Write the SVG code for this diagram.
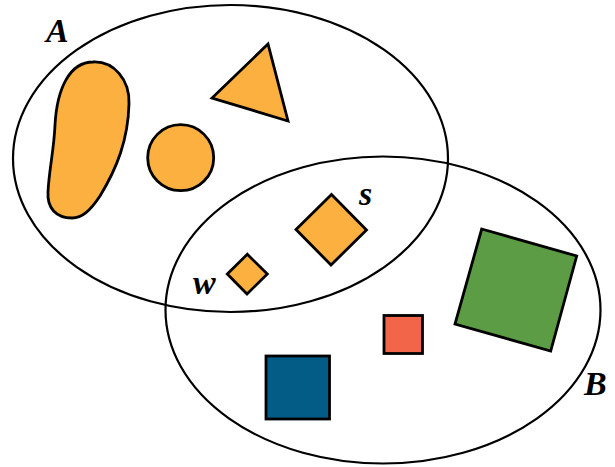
<svg xmlns="http://www.w3.org/2000/svg" width="615" height="467" viewBox="0 0 615 467">
<style>
.set{fill:none;stroke:#000;stroke-width:2.2}
.sh{stroke:#000;stroke-width:2.8;stroke-linejoin:miter}
.or{fill:#FBB040}
.lbl{font-family:"Liberation Serif","Times New Roman",serif;font-style:italic;font-weight:bold;font-size:34px;fill:#000}
</style>
<rect width="615" height="467" fill="#fff"/>
<g id="setA">
<ellipse class="set" cx="230.5" cy="158.5" rx="217.5" ry="153.5"/>
<text class="lbl" x="46" y="42">A</text>
</g>
<g id="setB">
<ellipse class="set" cx="383" cy="310" rx="217.5" ry="153.5"/>
<text class="lbl" x="584" y="395">B</text>
</g>
<g id="blob">
<path class="sh or" d="M93 62 C114 61 130 80 129 104 C128 140 117 168 100 196 C90 211 82 218 72 218 C56 218 47 208 48 192 C49 170 54 150 55 125 C57 88 70 62 93 62 Z"/>
</g>
<g id="circle">
<circle class="sh or" cx="180.7" cy="157.7" r="33"/>
</g>
<g id="triangle">
<polygon class="sh or" points="268,44 212,98 288,121"/>
</g>
<g id="s">
<polygon class="sh or" points="331.5,194.5 366.5,230 331,265 296,229.5"/>
<text class="lbl" x="359" y="205">s</text>
</g>
<g id="w">
<polygon class="sh or" points="247.3,254.3 267.3,274 247,294 227.3,274"/>
<text class="lbl" x="193" y="294">w</text>
</g>
<g id="red">
<rect class="sh" x="384" y="315.5" width="38.5" height="38" fill="#F26549"/>
</g>
<g id="blue">
<rect class="sh" x="266" y="356" width="63.5" height="63" fill="#035C86"/>
</g>
<g id="green">
<polygon class="sh" points="481.7,229 576.7,256 550.7,351 455,324" fill="#5B9C45"/>
</g>
</svg>
